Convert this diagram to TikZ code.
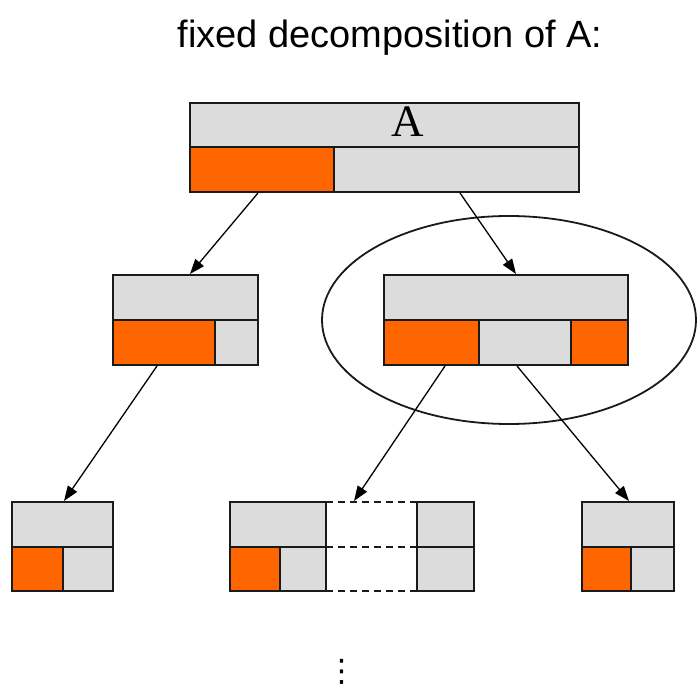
\documentclass[tikz,border=0pt]{standalone}
\usepackage{fontspec}
\setmainfont{Liberation Serif}
\newfontfamily\titlefont{Liberation Sans}
\newfontfamily\symfont{DejaVu Sans}
\usetikzlibrary{arrows.meta}
\definecolor{boxgray}{HTML}{DCDCDC}
\definecolor{boxorange}{HTML}{FF6600}
\definecolor{edge}{HTML}{1A1A1A}
\begin{document}
\begin{tikzpicture}[x=1pt,y=-1pt,
  cell/.style={draw=edge, line width=1.8pt, fill=boxgray, inner sep=0pt, outer sep=0pt, anchor=north west, minimum height=45pt},
  ocell/.style={cell, fill=boxorange},
  arr/.style={draw=black, line width=1.3pt, -{Triangle[length=15pt,width=11pt]}},
  dashline/.style={draw=edge, line width=1.8pt, dash pattern=on 7pt off 5pt}]
\useasboundingbox (0,0) rectangle (697,684);

% title
\node[font=\titlefont\fontsize{38}{40}\selectfont, anchor=base, inner sep=0pt] (title) at (390,48) {fixed decomposition of A:};

% top box
\node[cell, minimum width=389pt, minimum height=44pt] (tA) at (190,103) {};
\node[font=\fontsize{45}{48}\selectfont, anchor=base, inner sep=0pt] (labelA) at (408,137) {A};
\node[ocell, minimum width=144pt] (tO) at (190,147) {};
\node[cell, minimum width=245pt] (tG) at (334,147) {};

% middle left
\node[cell, minimum width=145pt] (mlT) at (113,275) {};
\node[ocell, minimum width=102pt] (mlO) at (113,320) {};
\node[cell, minimum width=43pt] (mlG) at (215,320) {};

% middle right
\node[cell, minimum width=244pt] (mrT) at (384,275) {};
\node[ocell, minimum width=95pt] (mrO) at (384,320) {};
\node[cell, minimum width=92pt] (mrG) at (479,320) {};
\node[ocell, minimum width=57pt] (mrO2) at (571,320) {};

% ellipse
\draw[draw=edge, line width=1.8pt] (509,320) ellipse [x radius=187pt, y radius=104pt];

% bottom left
\node[cell, minimum width=101pt] (blT) at (12,502) {};
\node[ocell, minimum width=51pt, minimum height=44pt] (blO) at (12,547) {};
\node[cell, minimum width=50pt, minimum height=44pt] (blG) at (63,547) {};

% bottom middle
\node[cell, minimum width=96pt] (bmT) at (230,502) {};
\node[ocell, minimum width=50pt, minimum height=44pt] (bmO) at (230,547) {};
\node[cell, minimum width=46pt, minimum height=44pt] (bmG) at (280,547) {};
\node[cell, minimum width=57pt] (bmRT) at (417,502) {};
\node[cell, minimum width=57pt, minimum height=44pt] (bmRB) at (417,547) {};
\draw[dashline] (bmT.north east) -- (bmRT.north west);
\draw[dashline] (bmT.south east) -- (bmRT.south west);
\draw[dashline] (bmG.south east) -- (bmRB.south west);

% bottom right
\node[cell, minimum width=92pt] (brT) at (582,502) {};
\node[ocell, minimum width=49pt, minimum height=44pt] (brO) at (582,547) {};
\node[cell, minimum width=43pt, minimum height=44pt] (brG) at (631,547) {};

% connector endpoints
\coordinate (s1) at (258,193);
\coordinate (e1) at (190,274);
\coordinate (s2) at (460,193);
\coordinate (e2) at (516,274);
\coordinate (s3) at (157,366);
\coordinate (e3) at (64,501);
\coordinate (s4) at (445,366);
\coordinate (e4) at (354,501);
\coordinate (s5) at (517,366);
\coordinate (e5) at (629,501);
\draw[arr] (s1) -- (e1);
\draw[arr] (s2) -- (e2);
\draw[arr] (s3) -- (e3);
\draw[arr] (s4) -- (e4);
\draw[arr] (s5) -- (e5);

% vertical dots
\node[font=\symfont\fontsize{31}{33}\selectfont, inner sep=0pt, anchor=base] (dots) at (342,681) {⋮};
\end{tikzpicture}
\end{document}
